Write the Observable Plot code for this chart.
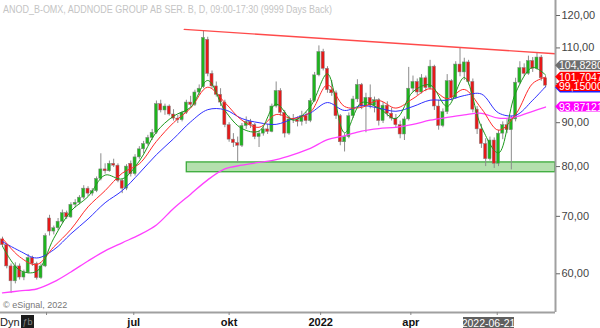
<!DOCTYPE html>
<html><head><meta charset="utf-8">
<script src="https://cdn.jsdelivr.net/npm/d3@7"></script>
<script src="https://cdn.jsdelivr.net/npm/@observablehq/plot@0.6"></script>
<style>html,body{margin:0;padding:0;background:#fff;overflow:hidden}</style>
</head><body><div id="chart"></div>
<script>
// Candles (one per ~3 trading days)
const openP = [65.8,64.8,61.2,58.8,61.2,59.4,60.2,62.6,61.6,59.3,61.2,69.6,67.2,67.8,69.0,70.6,69.8,72.2,72.6,73.6,75.4,74.4,74.9,77.4,79.4,79.0,80.6,80.2,77.0,75.4,80.6,78.4,82.0,83.8,85.0,86.4,87.6,94.6,93.0,94.0,92.0,91.0,90.6,92.4,95.0,94.4,97.6,99.0,112.4,102.6,99.2,97.0,95.0,89.4,86.0,85.2,84.6,89.2,90.2,89.4,86.6,87.4,88.4,87.8,94.0,98.0,92.4,87.4,90.8,90.6,90.2,91.6,90.4,95.4,102.2,108.8,104.0,98.2,97.4,91.6,85.4,86.6,91.6,95.8,99.6,94.0,96.2,94.2,95.6,90.4,94.2,92.2,91.0,89.4,87.2,90.8,98.6,100.4,97.6,101.4,98.8,104.6,94.0,89.2,92.6,100.6,96.2,105.2,103.0,105.8,100.4,93.2,88.4,85.0,81.6,85.8,80.6,87.4,89.4,88.2,90.8,100.2,104.2,102.6,106.2,104.0,107.2,101.4];
const highP = [66.2,65.0,61.6,61.8,61.6,60.6,63.2,62.9,61.9,61.6,66.8,70.2,68.2,69.6,71.2,71.0,72.6,73.2,74.0,76.0,75.8,75.4,77.8,82.8,80.6,81.2,81.6,80.6,77.4,80.4,81.2,82.6,84.4,85.6,87.0,88.4,95.4,95.6,94.6,94.4,93.2,91.8,92.8,95.6,96.6,98.2,99.6,115.2,113.2,103.4,100.4,98.6,95.6,90.0,87.4,86.6,89.8,91.4,90.8,89.8,88.0,89.0,89.6,94.6,100.4,98.6,93.0,91.6,92.0,91.4,92.8,92.6,96.0,103.0,110.6,109.6,104.6,100.8,98.0,92.0,87.4,92.4,96.6,101.0,100.0,97.4,99.6,96.4,96.0,95.0,95.2,93.6,92.0,90.4,91.4,104.4,102.0,101.2,102.4,102.0,106.4,105.0,95.6,93.4,102.4,101.0,106.0,110.0,107.0,106.4,101.2,94.0,89.6,86.2,86.6,86.4,88.2,90.2,91.0,91.6,101.4,106.0,105.4,107.6,107.2,108.6,107.8,102.0];
const lowP = [64.4,60.8,56.9,58.4,59.0,58.9,60.0,61.2,59.0,59.1,61.0,66.4,66.6,67.4,68.6,69.4,69.6,71.6,72.2,73.2,73.8,73.9,74.6,77.0,78.4,78.8,79.8,76.6,74.4,75.0,77.8,78.0,81.6,82.8,84.6,85.8,87.2,92.4,91.8,91.6,90.4,89.8,90.2,92.0,93.8,94.0,96.8,98.6,101.8,98.6,96.4,94.0,88.8,85.4,84.2,80.8,84.2,88.4,88.6,86.0,84.2,86.8,87.2,87.6,93.6,91.6,86.4,87.0,89.8,89.0,89.2,89.6,90.0,95.0,101.8,103.4,97.4,96.6,90.8,84.6,83.2,86.2,91.0,95.0,93.2,87.6,93.4,92.4,89.2,89.8,91.4,90.4,88.6,86.2,85.8,90.4,97.6,96.8,97.2,97.8,98.2,93.0,88.2,88.8,92.0,95.4,95.8,101.8,100.8,99.6,92.4,87.2,84.0,80.0,81.2,79.6,80.0,86.0,87.4,79.3,90.2,99.6,101.8,102.2,103.0,103.6,100.6,98.8];
const closeP = [64.8,61.2,58.8,61.2,59.4,60.2,62.6,61.6,59.3,61.2,66.4,67.2,67.8,69.0,70.6,69.8,72.2,72.6,73.6,75.4,74.4,74.9,77.4,79.4,79.0,80.6,80.2,77.0,75.4,80.0,78.4,82.0,83.8,85.0,86.4,87.6,94.6,93.0,94.0,92.0,91.0,90.6,92.4,95.0,94.4,97.6,98.6,113.0,102.6,99.2,97.0,95.0,89.4,86.0,85.2,84.6,89.2,90.2,89.4,86.6,87.4,88.4,87.8,94.0,98.0,92.4,87.4,90.8,90.6,90.2,91.6,90.4,95.4,102.2,108.8,104.0,98.2,97.4,91.6,85.4,86.6,91.6,95.8,99.6,94.0,96.2,94.2,95.6,90.4,94.2,92.2,91.0,89.4,87.2,90.8,98.6,100.4,97.6,101.4,98.8,104.6,94.0,89.2,92.6,100.6,96.2,105.2,103.0,105.8,100.4,93.2,88.4,85.0,81.6,85.8,80.6,87.4,89.4,88.2,90.8,100.2,104.2,102.6,106.2,104.0,107.2,101.4,99.4];

// Moving averages sampled every 4 candles (plus last)
const ma10  = [64.6,60.6,60.4,66.0,71.0,73.8,78.2,77.4,81.2,87.8,91.6,93.8,100.8,93.0,88.6,88.0,94.6,90.6,94.0,102.6,87.6,95.0,93.6,91.0,97.8,99.6,94.0,101.6,89.0,83.0,97.5,104.4,102.3];
const ma20  = [66.0,62.8,61.5,64.5,67.6,71.8,75.0,78.6,80.6,85.6,90.0,93.6,99.0,95.0,90.6,88.9,92.0,91.0,92.6,99.6,94.0,93.8,95.5,93.6,96.0,98.6,96.0,98.4,93.5,88.2,92.0,100.0,101.7];
const ma50  = [65.4,63.8,62.6,64.0,66.8,69.5,72.6,75.0,78.6,82.6,86.2,90.2,93.2,93.2,91.0,90.0,89.6,91.0,92.4,95.0,93.0,94.2,93.6,92.8,94.0,95.6,95.6,96.8,97.2,92.4,91.8,95.6,99.15];
const ma200 = [57.0,57.3,57.6,58.7,60.3,62.1,63.8,65.2,66.6,68.4,71.5,74.3,77.2,79.5,80.3,80.9,81.5,82.6,84.0,86.0,86.9,88.0,88.6,88.9,89.6,90.6,91.3,91.9,92.3,91.1,91.4,92.8,93.87];
const maIdx = d3.range(0, 125, 4).concat([127]);

// Trend line and support zone
const trendK = [42.5, 129.3], trendV = [115.6, 108.3];
const zoneK = [43.1, 129.3], zoneV = [78.8, 80.9];

// Axes
const yTicks = [60, 70, 80, 90, 100, 110, 120];
const tickK = [10.3, 30.7, 53.0, 74.4, 95.5, 115.7];
const tickLabels = ["", "jul", "okt", "2022", "apr", ""];

// Last-value labels
const lastValues = [104.828, 101.70476, 99.150002, 93.871211];
const lastTexts = ["104,82800", "101,70476", "99,150002", "93,871211"];

const candles = openP.map((o, i) => ({i, o, h: highP[i], l: lowP[i], c: closeP[i]}));
const mk = arr => arr.map((v, j) => ({k: maIdx[j], v}));
const tickMap = new Map(tickK.map((k, i) => [k, tickLabels[i]]));
const FONT = "'Liberation Sans', Arial, sans-serif";

const plot = Plot.plot({
  width: 600, height: 328,
  marginLeft: 0, marginRight: 45, marginTop: 0, marginBottom: 16,
  style: {fontFamily: FONT, background: "#fff", overflow: "visible"},
  x: {type: "linear", domain: [-0.468, 129.33]},
  y: {type: "log", domain: [54.08, 124.93]},
  marks: [
    Plot.rect([0], {x1: () => zoneK[0], x2: () => zoneK[1], y1: () => zoneV[0], y2: () => zoneV[1], fill: "#b4e0ae", stroke: "#3aaa3a", strokeWidth: 1.3}),
    Plot.ruleX(candles, {x: "i", y1: "l", y2: "h", stroke: "#8c8c8c", strokeWidth: 1}),
    Plot.rect(candles, {x1: d => d.i - 0.36, x2: d => d.i + 0.36, y1: "o", y2: "c",
      fill: d => d.c >= d.o ? "#1db51d" : "#e61919", stroke: "#808080", strokeWidth: 0.5}),
    Plot.line(mk(ma200), {x: "k", y: "v", stroke: "#ff40ff", strokeWidth: 1.3, curve: "catmull-rom"}),
    Plot.line(mk(ma50), {x: "k", y: "v", stroke: "#3030ff", strokeWidth: 1, curve: "catmull-rom"}),
    Plot.line(mk(ma20), {x: "k", y: "v", stroke: "#ff2a2a", strokeWidth: 1, curve: "catmull-rom"}),
    Plot.line(mk(ma10), {x: "k", y: "v", stroke: "#1c9a1c", strokeWidth: 1, curve: "catmull-rom"}),
    Plot.line(trendK.map((k, i) => ({k, v: trendV[i]})), {x: "k", y: "v", stroke: "#ff4a4a", strokeWidth: 1.3}),
    Plot.ruleX([129.33], {stroke: "#a0a0a0", strokeWidth: 2}),
    Plot.ruleY([54.08], {stroke: "#a0a0a0", strokeWidth: 2}),
    Plot.axisY(yTicks, {anchor: "right", tickSize: 4, tickPadding: 2, fontSize: 11, fill: "#444", stroke: "#666",
      tickFormat: d => d.toFixed(2).replace(".", ","), label: null}),
    Plot.axisX(tickK, {anchor: "bottom", tickSize: 3, tickPadding: 3, fontSize: 11, fontWeight: "bold", fill: "#111", stroke: "#888",
      tickFormat: d => tickMap.get(d), label: null})
  ]
});
document.getElementById("chart").appendChild(plot);

const svg = d3.select(plot);
const ys = plot.scale("y");
const xR = 555;
const addText = (x, y, size, fill, str, anchor = "start") =>
  svg.append("text").attr("x", x).attr("y", y).attr("font-size", size).attr("fill", fill)
    .attr("font-family", FONT).attr("text-anchor", anchor).text(str);

// title and credits
addText(3, 13, 11, "#c4c4c4", "ANOD_B-OMX, ADDNODE GROUP AB SER. B, D, 09:00-17:30 (9999 Days Back)")
  .attr("textLength", 329).attr("lengthAdjust", "spacingAndGlyphs");
addText(3, 308, 9, "#777", "© eSignal, 2022");
addText(0, 326, 11, "#222", "Dyn");
svg.append("rect").attr("x", 21).attr("y", 315).attr("width", 13).attr("height", 13).attr("fill", "#1c1c1c");
addText(27.5, 325, 9, "#888", "ƒb", "middle");
svg.append("rect").attr("x", 463).attr("y", 317).attr("width", 51).attr("height", 11).attr("fill", "#606060");
addText(488.5, 326.5, 10.5, "#fff", "2022-06-21", "middle");

// last value labels
const labelFill = ["#6e6e6e", "#ff0000", "#ff0000", "#ff00ff"];
function tag(v, text, fill, under) {
  const c = ys.apply(v);
  if (under) {
    svg.append("path").attr("d", `M${xR},${c + 1.5}L${xR + 5},${c - 3.5}H600V${c + 6.5}H${xR + 5}Z`).attr("fill", under);
  }
  svg.append("path").attr("d", `M${xR},${c}L${xR + 5},${c - 5}H600V${c + 5}H${xR + 5}Z`).attr("fill", fill);
  addText(xR + 4, c + 4, 10.5, "#fff", text);
}
tag(lastValues[3], lastTexts[3], labelFill[3]);
tag(lastValues[2], lastTexts[2], labelFill[2], "#2020ff");
tag(lastValues[1], lastTexts[1], labelFill[1]);
tag(lastValues[0], lastTexts[0], labelFill[0]);
</script>
</body></html>
